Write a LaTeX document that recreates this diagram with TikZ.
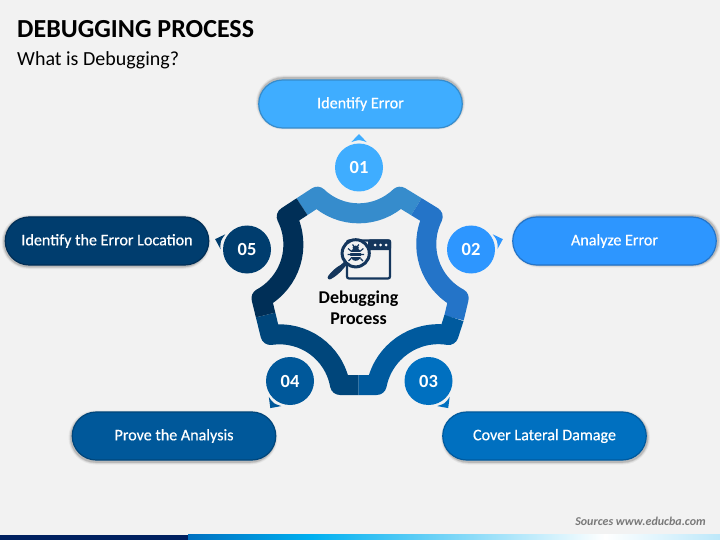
\documentclass[tikz,border=0pt]{standalone}
\usepackage{fontspec}
\setmainfont{Carlito}
\newfontfamily\pillfont[FakeBold=0.5]{Carlito}
\usetikzlibrary{shapes.misc}
\definecolor{bg}{HTML}{F2F2F2}
\definecolor{cA}{HTML}{3FADFF}\definecolor{cAe}{HTML}{368CCC}
\definecolor{cB}{HTML}{2D96FF}\definecolor{cBe}{HTML}{2474C8}
\definecolor{cC}{HTML}{0070C0}\definecolor{cCe}{HTML}{005A9E}
\definecolor{cD}{HTML}{00589A}\definecolor{cDe}{HTML}{00467B}
\definecolor{cE}{HTML}{003D6E}\definecolor{cEe}{HTML}{002F57}
\definecolor{ink}{HTML}{14365C}
\definecolor{navy}{HTML}{002060}
\definecolor{barA}{HTML}{0070C0}
\definecolor{barB}{HTML}{00B0F0}
\definecolor{barC}{HTML}{FFFFFF}
\definecolor{barD}{HTML}{BDE8FA}
\tikzset{
  pill/.style={rounded rectangle,minimum width=203.5pt,minimum height=48pt,inner sep=0pt,line width=1.2pt,text=white,font=\pillfont\fontsize{16.1}{18}\selectfont},
  badge/.style={circle,minimum size=48pt,inner sep=0pt,text=white,font=\bfseries\fontsize{18.5}{20}\selectfont},
  seg/.style={line width=20pt,line join=round,line cap=butt},
  pshadow/.style={rounded rectangle,inner sep=0pt,fill=black,draw=none},
}
\begin{document}
\begin{tikzpicture}[x=1pt,y=-1pt]
\useasboundingbox (0,0) rectangle (720,540);
\fill[bg] (0,0) rectangle (720,540);
% title
\node[anchor=west,inner sep=0pt,font=\bfseries\fontsize{26}{30}\selectfont,text=black] (title) at (17,29) {DEBUGGING PROCESS};
\node[anchor=west,inner sep=0pt,font=\fontsize{20}{24}\selectfont,text=black] (sub) at (17,60) {What is Debugging?};
% ring
\draw[seg,cAe] (302,206.7) -- (317.3,196.7) .. controls (340.5,218.9) and (376.8,218.9) .. (400,196.7) -- (416.4,206.7);
\draw[seg,cBe] (416.4,206.7) -- (432.7,216.7) .. controls (417.9,246.6) and (429.3,282.5) .. (458.7,298.3) -- (454,318);
\draw[seg,cCe] (454,318) -- (448.5,335) .. controls (415,329.6) and (383.3,351.6) .. (376.7,385) -- (358.3,385);
\draw[seg,cDe] (358.3,385) -- (340,385) .. controls (334,352.1) and (303.6,330.2) .. (270.5,335) -- (265.6,315);
\draw[seg,cEe] (265.6,315) -- (261.5,298.3) .. controls (290.7,282.2) and (301.7,246.4) .. (286.7,216.7) -- (302,206.7);
% pill shadows
\foreach \px/\py in {360.5/102.5,616/240.5,545.5/437.5,173/437.5,106/242}{
  \foreach \w/\o in {5/.05,3/.08,1.5/.12}{
    \node[pshadow,opacity=\o,minimum width=204pt+\w pt,minimum height=49pt+\w pt] at (\px,\py) {};
  }
}
\node[pill,fill=cA,draw=cAe] (p1) at (360.5,104) {Identify Error};
\node[pill,fill=cB,draw=cBe] (p2) at (614.5,241) {Analyze Error};
\node[pill,fill=cC,draw=cCe] (p3) at (544.5,436) {Cover Lateral Damage};
\node[pill,fill=cD,draw=cDe] (p4) at (174,436) {Prove the Analysis};
\node[pill,fill=cE,draw=cEe] (p5) at (107,241) {Identify the Error Location};
% badges
\node[badge,fill=cA] (b1) at (359,167.5) {01};
\node[badge,fill=cB] (b2) at (471,249.5) {02};
\node[badge,fill=cC] (b3) at (428.5,381) {03};
\node[badge,fill=cD] (b4) at (290,381) {04};
\node[badge,fill=cE] (b5) at (247,249.5) {05};
\foreach \n/\a/\cc in {b1/90/cA,b2/18/cB,b3/-54/cC,b4/-126/cD,b5/162/cE}{
  \path (\n.center) ++(\a-17:26.5pt) coordinate (ta);
  \path (\n.center) ++(\a:33.5pt) coordinate (tb);
  \path (\n.center) ++(\a+17:26.5pt) coordinate (tc);
  \path (\n.center) ++(\a:28pt) coordinate (td);
  \fill[\cc] (ta) -- (tb) -- (tc) .. controls (td) .. (ta) -- cycle;
}
% icon
\draw[ink,line width=2.2pt,rounded corners=2pt] (347,240.5) rectangle (390,278.5);
\fill[ink,rounded corners=2pt] (368,239.4) rectangle (391.1,250);
\foreach \dx in {375,380.7,386}{\fill[white] (\dx,245) circle (1.5);}
\fill[bg] (355.7,253.3) circle (14);
\draw[ink,line width=3pt] (355.7,253.3) circle (13.6);
\fill[ink] (345.5,263) -- (347,264.5) -- (343.5,268.5) .. controls (341,272) and (335,277) .. (331,279)
  .. controls (328.5,280.5) and (326.5,278) .. (328.5,275.5) .. controls (331.5,271.5) and (336.5,267) .. (340.5,265)
  -- (344,262) -- cycle;
\fill[ink] (355.7,254.5) ellipse (5.6 and 6.3);
\fill[ink] (355.7,247.8) ellipse (3.2 and 2.2);
\draw[ink,line width=1.2pt] (351,251)--(348,248.5) (360.4,251)--(363.4,248.5)
  (350.5,254.5)--(347.5,254.5) (361,254.5)--(364,254.5) (351,258.5)--(348.5,261) (360.4,258.5)--(363,261)
  (354,246.5)--(352.5,244.5) (357.4,246.5)--(358.9,244.5);
\draw[bg,line width=.6pt] (350,252)--(361.4,252) (350,256)--(361.4,256);
\node[inner sep=0pt,align=center,text=black,font=\bfseries\fontsize{18}{21}\selectfont] (lbl) at (358.5,307.5) {Debugging\\Process};
% footer
\node[anchor=east,inner sep=0pt,text=gray!95!black,font=\bfseries\itshape\fontsize{12}{14}\selectfont] (src) at (706,521) {Sources www.educba.com};
\fill[navy] (0,534.5) rectangle (188,540);
\shade[left color=barA,right color=barB] (188,534.5) rectangle (312,540);
\shade[left color=barB,right color=barC] (311.5,534.5) rectangle (605,540);
\shade[left color=barC,right color=barD] (604.5,534.5) rectangle (720,540);
\end{tikzpicture}
\end{document}
